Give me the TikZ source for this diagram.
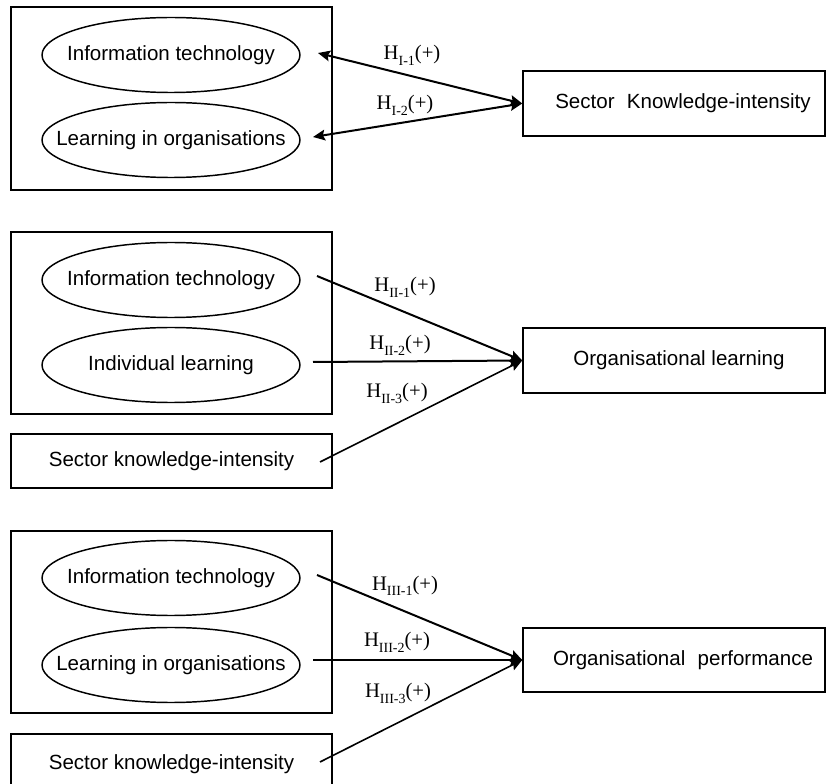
\documentclass[tikz,border=0pt]{standalone}
\usepackage{fontspec}
\setmainfont{Liberation Serif}
\newfontfamily\arialf{Liberation Sans}
\usetikzlibrary{shapes.geometric,arrows.meta}
\newcommand\hyplab[1]{H\raisebox{-4.5pt}{\fontsize{10.5}{11}\selectfont #1}(+)}
\begin{document}
\begin{tikzpicture}[x=0.75pt,y=-0.75pt,
  frame/.style={draw, line width=1.1pt},
  txt/.style={font=\arialf\fontsize{15.4}{18}\selectfont},
  oval/.style={ellipse, draw, line width=1.1pt, minimum width=193.5pt, minimum height=56.25pt, inner sep=0pt,
     label={[txt, inner sep=0pt]center:#1}},
  rbox/.style={rectangle, draw, line width=1.1pt, minimum width=226.5pt, minimum height=48.75pt, inner sep=0pt, txt},
  sbox/.style={rectangle, draw, line width=1.1pt, minimum width=240.75pt, minimum height=40.5pt, inner sep=0pt, txt},
  hlab/.style={anchor=base, font=\fontsize{15.5}{18}\selectfont, inner sep=0pt},
  tip/.tip={Stealth[length=9pt,width=8pt,inset=1.5pt]},
  link/.style={line width=1.5pt, -tip},
  dlink/.style={line width=1.5pt, tip-tip},
]
\useasboundingbox (0,0) rectangle (826,784);
\clip (0,0) rectangle (826,784);

% ---------- Section I ----------
\draw[frame] (11,7) rectangle (332,190);
\node[oval={Information technology}] (e11) at (171,55) {};
\node[oval={Learning in organisations}] (e12) at (171,140) {};
\node[rbox] (r1) at (674,103.5) {\hspace*{13.5pt}Sector\hspace{0.6em}Knowledge-intensity};
\coordinate (a11) at (318,53);
\coordinate (a12) at (313,137);
\draw[dlink] (a11) -- (r1.west);
\draw[dlink] (a12) -- (r1.west);
\node[hlab] (h11) at (412,60) {\hyplab{I-1}};
\node[hlab] (h12) at (405,110) {\hyplab{I-2}};

% ---------- Section II ----------
\draw[frame] (11,232) rectangle (332,414);
\node[oval={Information technology}] (e21) at (171,280) {};
\node[oval={Individual learning}] (e22) at (171,365) {};
\node[sbox] (s2) at (171.5,461) {Sector knowledge-intensity};
\node[rbox] (r2) at (674,360.5) {\hspace*{7.5pt}Organisational learning};
\coordinate (a21) at (317,276);
\coordinate (a22) at (313,362);
\coordinate (a23) at (320,462);
\draw[link] (a21) -- (r2.west);
\draw[link] (a22) -- (r2.west);
\draw[link, line width=1.2pt] (a23) -- (r2.west);
\node[hlab] (h21) at (405,292) {\hyplab{II-1}};
\node[hlab] (h22) at (400,350) {\hyplab{II-2}};
\node[hlab] (h23) at (397,398) {\hyplab{II-3}};

% ---------- Section III ----------
\draw[frame] (11,531) rectangle (332,713);
\node[oval={Information technology}] (e31) at (171,578) {};
\node[oval={Learning in organisations}] (e32) at (171,665) {};
\node[sbox, minimum height=45pt] (s3) at (171.5,764) {Sector knowledge-intensity};
\node[rbox, minimum height=48pt] (r3) at (674,660) {\hspace*{13.5pt}Organisational\hspace{0.6em}performance};
\coordinate (a31) at (317,575);
\coordinate (a32) at (313,660);
\coordinate (a33) at (320,762);
\draw[link] (a31) -- (r3.west);
\draw[link] (a32) -- (r3.west);
\draw[link, line width=1.2pt] (a33) -- (r3.west);
\node[hlab] (h31) at (405,590) {\hyplab{III-1}};
\node[hlab] (h32) at (397,647) {\hyplab{III-2}};
\node[hlab] (h33) at (398,697) {\hyplab{III-3}};
\end{tikzpicture}
\end{document}
